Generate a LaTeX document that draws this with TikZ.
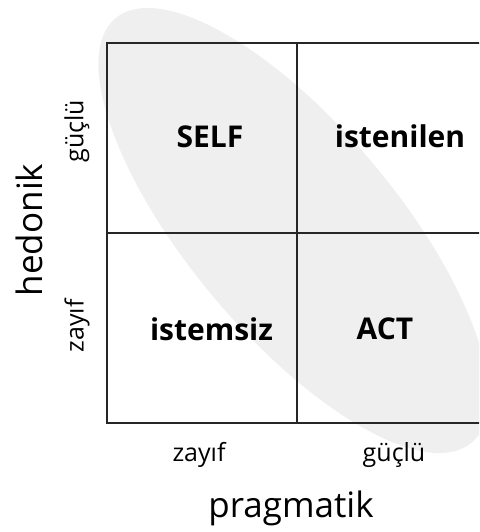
\documentclass[tikz,border=0pt]{standalone}
\usepackage{fontspec}
\setmainfont{Open Sans}
\definecolor{blobgray}{HTML}{EFEFEF}
\definecolor{gridline}{HTML}{262626}
\tikzset{
  gridstroke/.style={draw=gridline, line width=2pt},
  celltext/.style={font=\fontsize{30}{34}\selectfont\bfseries, inner sep=0pt},
  ticktext/.style={font=\fontsize{25}{29}\selectfont, inner sep=0pt},
  axistext/.style={font=\fontsize{35}{40}\selectfont, inner sep=0pt}
}
\begin{document}
\begin{tikzpicture}[x=1pt, y=-1pt]
  \useasboundingbox (0,0) rectangle (479,532);
  \clip (0,0) rectangle (479,532);
  % tilted background ellipse
  \fill[blobgray] (293.5,230.5) circle[x radius=277, y radius=104, rotate=-50];
  % 2x2 grid
  \draw[gridstroke] (106.5,43.5) -- (495,43.5);
  \draw[gridstroke] (106.5,233) -- (495,233);
  \draw[gridstroke] (106.5,423) -- (495,423);
  \draw[gridstroke] (106.5,42.5) -- (106.5,424);
  \draw[gridstroke] (297,43.5) -- (297,423);
  % quadrant labels
  \node[celltext] (self) at (210,136.5) {SELF};
  \node[celltext] (wanted) at (400,136.5) {istenilen};
  \node[celltext] (unwanted) at (211.5,329) {istemsiz};
  \node[celltext] (act) at (385,329) {ACT};
  % hedonic axis
  \node[ticktext, rotate=90] (hstrong) at (77,131) {güçlü};
  \node[ticktext, rotate=90] (hweak) at (77,326) {zayıf};
  \node[axistext, rotate=90] (hedonic) at (29,230) {hedonik};
  % pragmatic axis
  \node[ticktext] (pweak) at (199,455) {zayıf};
  \node[ticktext] (pstrong) at (394,455) {güçlü};
  \node[axistext] (pragmatic) at (291,508) {pragmatik};
\end{tikzpicture}
\end{document}
